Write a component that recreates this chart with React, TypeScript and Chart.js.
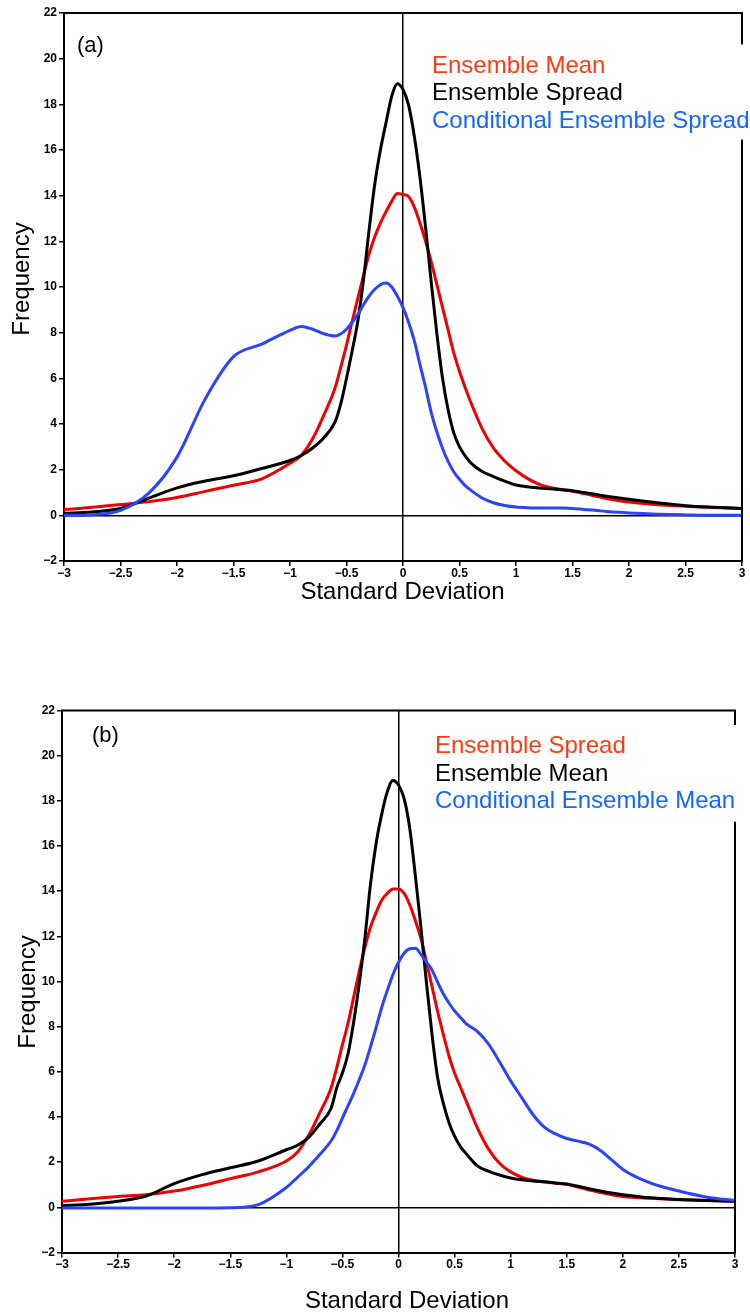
import React, { useEffect, useRef } from "react";
import { Chart, registerables } from "chart.js";

Chart.register(...registerables);

// Standard-deviation positions at which the curves were read
const X_VALUES = [
  -3, -2.75, -2.5, -2.25, -2, -1.75, -1.5, -1.25, -1,
  -0.9, -0.8, -0.7,
  -0.6, -0.55, -0.5, -0.45, -0.4, -0.35, -0.3, -0.25, -0.2, -0.15, -0.1, -0.05,
  0,
  0.05, 0.1, 0.15, 0.2, 0.25, 0.3, 0.35, 0.4, 0.45, 0.5, 0.55, 0.6,
  0.7, 0.8, 0.9, 1,
  1.1, 1.2, 1.3, 1.4, 1.5, 1.6, 1.7, 1.8, 1.9,
  2, 2.25, 2.5, 2.75, 3,
];

// Panel (a)
const A_LABELS = ["Ensemble Mean", "Ensemble Spread", "Conditional Ensemble Spread"];
const A_RED = [
  0.25, 0.35, 0.47, 0.6, 0.78, 1.05, 1.32, 1.6, 2.28,
  2.63, 3.35, 4.4,
  5.6, 6.5, 7.45, 8.5, 9.5, 10.5, 11.45, 12.2, 12.8, 13.3, 13.75, 14.1,
  14.05,
  13.95, 13.5, 12.8, 12.0, 11.1, 10.1, 9.1, 8.1, 7.1, 6.3, 5.6, 4.95,
  3.8, 2.95, 2.38, 1.95,
  1.62, 1.37, 1.22, 1.13, 1.05, 0.95, 0.85, 0.74, 0.65,
  0.58, 0.46, 0.4, 0.34, 0.3,
];
const A_BLACK = [
  0.08, 0.15, 0.3, 0.75, 1.2, 1.5, 1.73, 2.05, 2.4,
  2.62, 2.95, 3.4,
  4.1, 4.9, 6.0, 7.2, 8.5, 10.3, 12.5, 14.5, 16.0, 17.2, 18.35, 18.9,
  18.65,
  17.95, 16.6, 14.8, 12.6, 10.2, 7.95, 6.0, 4.6, 3.6, 3.0, 2.6, 2.3,
  1.92, 1.7, 1.5, 1.33,
  1.25, 1.2, 1.16, 1.12, 1.08, 1.0, 0.92, 0.84, 0.77,
  0.7, 0.55, 0.42, 0.35, 0.3,
];
const A_BLUE = [
  0, 0.03, 0.22, 0.97, 2.55, 5.1, 6.95, 7.5, 8.1,
  8.27, 8.15, 7.95,
  7.85, 7.95, 8.15, 8.45, 8.8, 9.22, 9.6, 9.9, 10.1, 10.17, 10.0, 9.6,
  9.1,
  8.45, 7.65, 6.6, 5.6, 4.5, 3.65, 2.93, 2.35, 1.9, 1.58, 1.3, 1.1,
  0.76, 0.55, 0.43, 0.36,
  0.33, 0.32, 0.32, 0.32, 0.3, 0.26, 0.22, 0.17, 0.13,
  0.1, 0.05, 0.02, 0, 0,
];

// Panel (b)
const B_LABELS = ["Ensemble Spread", "Ensemble Mean", "Conditional Ensemble Mean"];
const B_RED = [
  0.27, 0.38, 0.48, 0.56, 0.72, 0.97, 1.27, 1.57, 2.05,
  2.45, 3.2, 4.2,
  5.3, 6.2, 7.2, 8.15, 9.3, 10.45, 11.5, 12.4, 13.05, 13.6, 13.9, 14.1,
  14.1,
  13.9, 13.4, 12.7, 11.9, 10.85, 9.75, 8.65, 7.65, 6.7, 5.95, 5.35, 4.75,
  3.55, 2.6, 1.95, 1.57,
  1.33, 1.2, 1.12, 1.07, 1.02, 0.9, 0.77, 0.65, 0.56,
  0.48, 0.4, 0.34, 0.3, 0.27,
];
const B_BLACK = [
  0.07, 0.14, 0.27, 0.5, 1.05, 1.45, 1.75, 2.05, 2.55,
  2.75, 3.1, 3.7,
  4.4, 5.3, 5.95, 6.8, 8.2, 9.9, 11.9, 14.3, 16.1, 17.4, 18.4, 18.9,
  18.7,
  18.1, 16.8, 14.7, 12.4, 9.9, 7.6, 5.7, 4.6, 3.75, 3.15, 2.7, 2.4,
  1.85, 1.6, 1.43, 1.3,
  1.22, 1.17, 1.13, 1.08, 1.03, 0.93, 0.82, 0.72, 0.63,
  0.56, 0.42, 0.35, 0.3, 0.27,
];
const B_BLUE = [
  -0.03, -0.03, -0.03, -0.03, -0.03, -0.03, -0.02, 0.12, 0.88,
  1.33, 1.8, 2.35,
  2.95, 3.4, 3.95, 4.5, 5.05, 5.65, 6.3, 7.1, 7.95, 8.85, 9.6, 10.3,
  10.85,
  11.25, 11.45, 11.47, 11.2, 10.85, 10.5, 9.95, 9.45, 9.05, 8.7, 8.42, 8.15,
  7.8, 7.25, 6.45, 5.6,
  4.85, 4.1, 3.55, 3.25, 3.05, 2.93, 2.8, 2.52, 2.1,
  1.68, 1.07, 0.72, 0.45, 0.3,
];

const LINE_COLORS = ["#f00000", "#000000", "#2b43ff"];
const LEGEND_COLORS = ["#ff3a14", "#000000", "#1468ff"];
const FONT = "'Liberation Sans', Arial, Helvetica, sans-serif";

type PanelCfg = {
  top: number;
  height: number;
  areaLeft: number;
  areaRight: number;
  areaTop: number;
  areaBottom: number;
  labels: string[];
  series: number[][];
  legendX: number;
  legendY0: number;
  legendDy: number;
  boxLeft: number;
  boxTop: number;
  boxBottom: number;
  tag: string;
  tagX: number;
  tagY: number;
  xTitleX: number;
  xTitleY: number;
  yTitleX: number;
  yTitleY: number;
};

const PANELS: PanelCfg[] = [
  {
    top: 0, height: 650,
    areaLeft: 64, areaRight: 742, areaTop: 13, areaBottom: 561,
    labels: A_LABELS, series: [A_RED, A_BLACK, A_BLUE],
    legendX: 432, legendY0: 72.7, legendDy: 27.4,
    boxLeft: 426, boxTop: 44.5, boxBottom: 139.5,
    tag: "(a)", tagX: 77, tagY: 52,
    xTitleX: 402.5, xTitleY: 599.3,
    yTitleX: 29.3, yTitleY: 279,
  },
  {
    top: 650, height: 664,
    areaLeft: 62, areaRight: 735, areaTop: 60.5, areaBottom: 602.5,
    labels: B_LABELS, series: [B_RED, B_BLACK, B_BLUE],
    legendX: 435, legendY0: 103.3, legendDy: 27.35,
    boxLeft: 429, boxTop: 75, boxBottom: 171.7,
    tag: "(b)", tagX: 92, tagY: 92,
    xTitleX: 407, xTitleY: 658.3,
    yTitleX: 35, yTitleY: 342,
  },
];

const zeroLine = (c: any) => (c.tick && c.tick.value === 0 ? "#000000" : "rgba(0,0,0,0)");
const fmt = (v: any) => String(v).replace("-", "\u2212");

function makeDecor(p: PanelCfg) {
  return {
    id: "decor",
    afterDraw(chart: any) {
      const { ctx, chartArea: a } = chart;
      ctx.save();
      // top and right frame
      ctx.strokeStyle = "#000";
      ctx.lineWidth = 2;
      ctx.beginPath();
      ctx.moveTo(a.left - 1, a.top);
      ctx.lineTo(a.right, a.top);
      ctx.lineTo(a.right, a.bottom + 1);
      ctx.stroke();
      // legend box
      ctx.fillStyle = "#fff";
      ctx.fillRect(p.boxLeft, p.boxTop, 750 - p.boxLeft, p.boxBottom - p.boxTop);
      ctx.font = `24px ${FONT}`;
      ctx.textAlign = "left";
      ctx.textBaseline = "alphabetic";
      p.labels.forEach((t, i) => {
        ctx.fillStyle = LEGEND_COLORS[i];
        ctx.fillText(t, p.legendX, p.legendY0 + i * p.legendDy);
      });
      // panel tag
      ctx.fillStyle = "#000";
      ctx.font = `22px ${FONT}`;
      ctx.fillText(p.tag, p.tagX, p.tagY);
      // axis titles
      ctx.font = `24px ${FONT}`;
      ctx.textAlign = "center";
      ctx.fillText("Standard Deviation", p.xTitleX, p.xTitleY);
      ctx.translate(p.yTitleX, p.yTitleY);
      ctx.rotate(-Math.PI / 2);
      ctx.fillText("Frequency", 0, 0);
      ctx.restore();
    },
  };
}

function buildConfig(p: PanelCfg): any {
  const tickFont = { family: FONT, size: 12, weight: "bold" as const };
  return {
    type: "line",
    data: {
      datasets: p.series.map((vals, i) => ({
        label: p.labels[i],
        data: X_VALUES.map((x, j) => ({ x, y: vals[j] })),
        borderColor: LINE_COLORS[i],
        backgroundColor: LINE_COLORS[i],
        borderWidth: 3,
        pointRadius: 0,
        fill: false,
        cubicInterpolationMode: "monotone",
        order: 2 - i,
      })),
    },
    options: {
      responsive: false,
      animation: false,
      devicePixelRatio: 1,
      events: [],
      layout: { padding: { left: 0, top: p.areaTop, right: 750 - p.areaRight, bottom: 0 } },
      plugins: { legend: { display: false }, tooltip: { enabled: false }, title: { display: false } },
      scales: {
        x: {
          type: "linear",
          min: -3,
          max: 3,
          afterFit: (s: any) => {
            s.height = p.height - p.areaBottom;
          },
          ticks: {
            stepSize: 0.5,
            autoSkip: false,
            maxRotation: 0,
            padding: 0,
            color: "#000",
            font: tickFont,
            callback: (v: any) => fmt(v),
          },
          grid: {
            color: zeroLine,
            lineWidth: 1.5,
            drawTicks: true,
            tickLength: 5,
            tickColor: "#000",
            tickWidth: 1.5,
          },
          border: { display: true, color: "#000", width: 2 },
        },
        y: {
          type: "linear",
          min: -2,
          max: 22,
          afterFit: (s: any) => {
            s.width = p.areaLeft;
          },
          ticks: {
            stepSize: 2,
            padding: 2,
            color: "#000",
            font: tickFont,
            callback: (v: any) => fmt(v),
          },
          grid: {
            color: zeroLine,
            lineWidth: 1.5,
            drawTicks: true,
            tickLength: 5,
            tickColor: "#000",
            tickWidth: 1.5,
          },
          border: { display: true, color: "#000", width: 2 },
        },
      },
    },
    plugins: [makeDecor(p)],
  };
}

function Panel({ cfg }: { cfg: PanelCfg }) {
  const ref = useRef<HTMLCanvasElement>(null);
  useEffect(() => {
    const chart = new Chart(ref.current as HTMLCanvasElement, buildConfig(cfg));
    return () => chart.destroy();
  }, [cfg]);
  return (
    <canvas
      ref={ref}
      width={750}
      height={cfg.height}
      style={{ position: "absolute", left: 0, top: cfg.top, width: 750, height: cfg.height, display: "block" }}
    />
  );
}

export default function App() {
  return (
    <div
      style={{
        position: "absolute",
        left: 0,
        top: 0,
        width: 750,
        height: 1314,
        background: "#fff",
        overflow: "hidden",
      }}
    >
      {PANELS.map((p) => (
        <Panel key={p.tag} cfg={p} />
      ))}
    </div>
  );
}
